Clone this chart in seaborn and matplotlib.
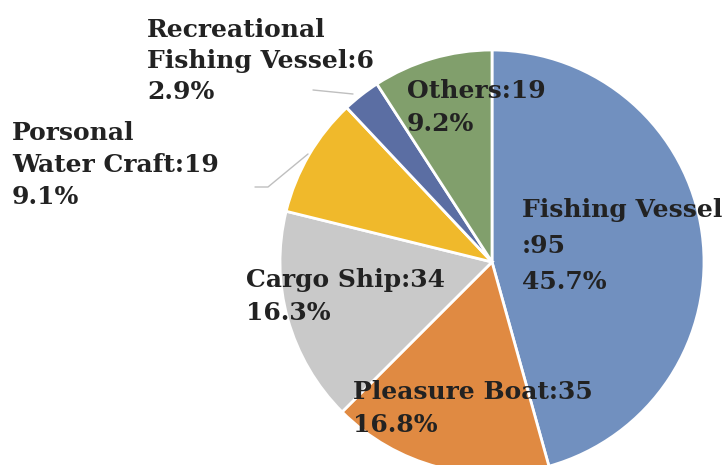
import matplotlib
matplotlib.use("Agg")
import matplotlib.pyplot as plt
import seaborn as sns

# vessel type counts, clockwise from 12 o'clock
categories = ["Fishing Vessel", "Pleasure Boat", "Cargo Ship",
              "Porsonal Water Craft", "Recreational Fishing Vessel", "Others"]
counts = [95, 35, 34, 19, 6, 19]
pct_labels = ["45.7%", "16.8%", "16.3%", "9.1%", "2.9%", "9.2%"]
colors = ["#7190bf", "#e08a42", "#c9c9c9", "#f0b92b", "#5b6ea3", "#819f6c"]

sns.set_theme(style="white")
plt.rcParams["font.family"] = ["DejaVu Serif"]

W, H = 728, 465
CX, CY, R = 492, 262, 212   # pie centre / radius in pixels


def px(x, y):
    # image pixel (origin top-left) -> data coords of the axes
    return (x - CX) / R, (CY - y) / R


fig = plt.figure(figsize=(W / 100, H / 100), dpi=100)
ax = fig.add_axes([0, 0, 1, 1])
ax.pie(counts, colors=colors, startangle=90, counterclock=False, radius=1,
       wedgeprops=dict(edgecolor="white", linewidth=2))
x0, _ = px(0, 0)
x1, _ = px(W, 0)
_, y1 = px(0, 0)
_, y0 = px(0, H)
ax.set_xlim(x0, x1)
ax.set_ylim(y0, y1)
ax.set_aspect("auto")
ax.axis("off")

# label text lines (left x, first baseline y, line step) in pixels
label_lines = [
    ["Fishing Vessel", f":{counts[0]}", pct_labels[0]],
    [f"Pleasure Boat:{counts[1]}", pct_labels[1]],
    [f"Cargo Ship:{counts[2]}", pct_labels[2]],
    ["Porsonal", f"Water Craft:{counts[3]}", pct_labels[3]],
    ["Recreational", f"Fishing Vessel:{counts[4]}", pct_labels[4]],
    [f"Others:{counts[5]}", pct_labels[5]],
]
label_pos = [(522, 217, 36), (353, 399, 33), (246, 287, 33),
             (12, 140, 32), (147, 37, 31), (407, 98, 33)]

for lines, (lx, ly, step) in zip(label_lines, label_pos):
    for i, line in enumerate(lines):
        ax.text(*px(lx, ly + i * step), line, fontsize=18, fontweight="bold",
                color="#222222", ha="left", va="baseline")

# leader lines for the small outer labels
leaders = [
    [(313, 90), (353, 94)],
    [(255, 187), (268, 187), (308, 154)],
]
for pts in leaders:
    xs, ys = zip(*[px(a, b) for a, b in pts])
    ax.plot(xs, ys, color="#bfbfbf", linewidth=1)

fig.savefig("out.png", dpi=100)
